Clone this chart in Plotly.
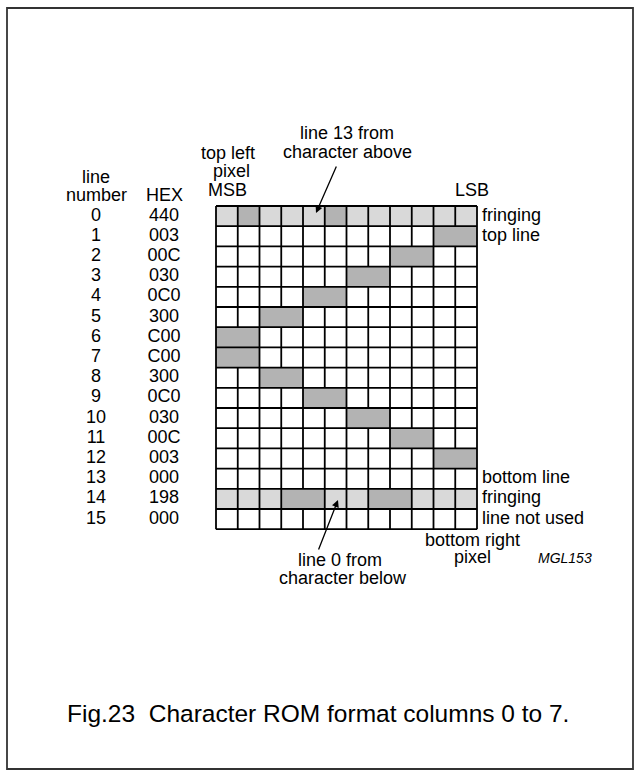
import plotly.graph_objects as go

# ---- data ----
line_numbers = list(range(16))
hex_codes = ["440", "003", "00C", "030", "0C0", "300", "C00", "C00",
             "300", "0C0", "030", "00C", "003", "000", "198", "000"]
fringing_rows = [0, 14]
right_label_rows = [0, 1, 13, 14, 15]
right_label_texts = ["fringing", "top line", "bottom line", "fringing", "line not used"]
n_cols = 12
caption = "Fig.23  Character ROM format columns 0 to 7."

# ---- derived cell matrix: 0 = white, 1 = fringing (light), 2 = pixel set (dark) ----
n_rows = len(hex_codes)
z = []
for r, h in enumerate(hex_codes):
    v = int(h, 16)
    base = 1 if r in fringing_rows else 0
    z.append([2 if (v >> (n_cols - 1 - c)) & 1 else base for c in range(n_cols)])

LIGHT = "#d9d9d9"
DARK = "#b3b3b3"
FONT = "Liberation Sans, Arial, sans-serif"
FS = 18

W, H = 640, 776
GX0, CW = 216.0, 21.75      # grid left edge and column width (px)
GY0, RH = 206.0, 20.2       # grid top edge and row height (px)


def X(px):
    return (px - GX0) / CW


def Y(py):
    return (py - GY0) / RH


fig = go.Figure()

fig.add_trace(go.Heatmap(
    z=z,
    x=[c + 0.5 for c in range(n_cols)],
    y=[r + 0.5 for r in range(n_rows)],
    zmin=0, zmax=2,
    colorscale=[[0, "white"], [0.333, "white"], [0.333, LIGHT], [0.667, LIGHT],
                [0.667, DARK], [1, DARK]],
    showscale=False, hoverinfo="skip",
))

# grid lines (no divider between two adjacent set pixels)
gx, gy = [], []
for r in range(n_rows + 1):
    gx += [0, n_cols, None]
    gy += [r, r, None]
for c in range(n_cols + 1):
    start = None
    for r in range(n_rows + 1):
        draw = r < n_rows and not (0 < c < n_cols and z[r][c - 1] == 2 and z[r][c] == 2)
        if draw and start is None:
            start = r
        if not draw and start is not None:
            gx += [c, c, None]
            gy += [start, r, None]
            start = None
fig.add_trace(go.Scatter(x=gx, y=gy, mode="lines", line=dict(color="black", width=1.8),
                         hoverinfo="skip", showlegend=False, connectgaps=False))

# row labels
tf = dict(family=FONT, size=FS, color="black")
fig.add_trace(go.Scatter(x=[X(96)] * n_rows, y=[r + 0.5 for r in line_numbers],
                         text=[str(n) for n in line_numbers], mode="text", textfont=tf,
                         hoverinfo="skip", showlegend=False))
fig.add_trace(go.Scatter(x=[X(164)] * n_rows, y=[r + 0.5 for r in line_numbers],
                         text=hex_codes, mode="text", textfont=tf,
                         hoverinfo="skip", showlegend=False))
fig.add_trace(go.Scatter(x=[X(482)] * len(right_label_rows),
                         y=[r + 0.5 for r in right_label_rows],
                         text=right_label_texts, mode="text", textposition="middle right",
                         textfont=tf, hoverinfo="skip", showlegend=False))


def txt(px, py, s, size=FS, anchor="center", italic=False):
    fig.add_annotation(x=X(px), y=Y(py), xref="x", yref="y", text=s, showarrow=False,
                       xanchor=anchor, yanchor="middle",
                       font=dict(family=FONT, size=size, color="black",
                                 style="italic" if italic else "normal"))


txt(96, 177, "line")
txt(96, 195, "number")
txt(164, 195, "HEX")
txt(228, 153, "top left")
txt(231, 171, "pixel")
txt(227, 190, "MSB")
txt(472, 190, "LSB")
txt(347, 133, "line 13 from")
txt(347, 152, "character above")
txt(340, 560, "line 0 from")
txt(343, 578, "character below")
txt(472, 540, "bottom right")
txt(472, 557, "pixel")
txt(565, 558, "MGL153", size=14, italic=True)
txt(65, 713, caption, size=24.5, anchor="left")

# arrows (tip, tail) in px
for tip, tail in [((316, 213), (337, 165)), ((338, 500), (318, 551))]:
    fig.add_annotation(x=X(tip[0]), y=Y(tip[1]), ax=X(tail[0]), ay=Y(tail[1]),
                       xref="x", yref="y", axref="x", ayref="y", text="", showarrow=True,
                       arrowhead=2, arrowsize=1.1, arrowwidth=1.3, arrowcolor="black")

# outer frame
fig.add_shape(type="rect", xref="paper", yref="paper",
              x0=7 / W, y0=1 - 8 / H, x1=633 / W, y1=1 - 769 / H,
              line=dict(color="#333333", width=1.8), fillcolor="rgba(0,0,0,0)")

fig.update_layout(
    width=W, height=H,
    margin=dict(l=0, r=0, t=0, b=0),
    paper_bgcolor="white", plot_bgcolor="white",
    xaxis=dict(visible=False, range=[X(0), X(W)], fixedrange=True),
    yaxis=dict(visible=False, range=[Y(H), Y(0)], fixedrange=True),
    showlegend=False,
)

fig.write_html("out.html", config={"displayModeBar": False},
               post_script="document.body.style.margin='0';document.body.style.overflow='hidden';")
